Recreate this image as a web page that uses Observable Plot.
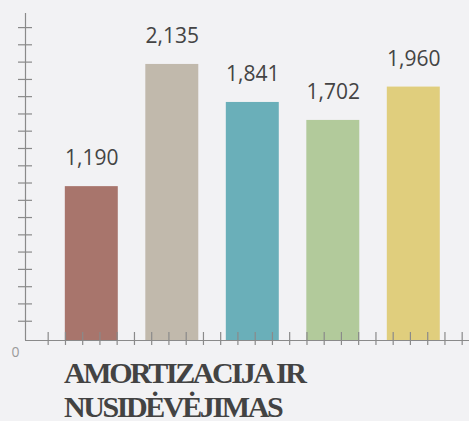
<!DOCTYPE html>
<html>
<head>
<meta charset="utf-8">
<script src="https://cdn.jsdelivr.net/npm/d3@7"></script>
<script src="https://cdn.jsdelivr.net/npm/@observablehq/plot@0.6"></script>
<style>
  html, body { margin: 0; padding: 0; background: #f2f2f4; }
  #wrap { position: relative; width: 469px; height: 421px; background: #f2f2f4; }
  #title {
    position: absolute; left: 64px; top: 356px;
    font-family: "Liberation Serif", "DejaVu Serif", serif;
    font-weight: bold; font-size: 30px; line-height: 34px;
    letter-spacing: -2.4px; color: #434343;
  }
  svg { display: block; }
</style>
</head>
<body>
<div id="wrap"><div id="chart"></div><div id="title">AMORTIZACIJA IR<br>NUSIDĖVĖJIMAS</div></div>
<script>
const categories = ["1", "2", "3", "4", "5"];
const values = [1190, 2135, 1841, 1702, 1960];
const labels = ["1,190", "2,135", "1,841", "1,702", "1,960"];
const colors = ["#a8756c", "#c1b9ac", "#6aafb9", "#b2ca9b", "#e0ce7d"];
const yTicks = [149, 283, 416, 550, 684, 817, 951, 1084, 1218, 1351, 1485, 1619, 1752, 1886, 2019, 2153, 2287, 2420];
const xTicks = [-0.542, -0.327, -0.113, 0.101, 0.315, 0.530, 0.744, 0.958, 1.173, 1.387, 1.601, 1.815, 2.030, 2.244, 2.458, 2.673, 2.887, 3.101, 3.315, 3.530, 3.744, 3.958, 4.173, 4.387, 4.601];
const xDomain = [-0.8236, 4.692];
const yDomain = [0, 2529];

const data = categories.map((c, i) => ({category: c, index: i, value: values[i], label: labels[i], color: colors[i]}));

const chart = Plot.plot({
  width: 469,
  height: 362,
  marginLeft: 25,
  marginRight: 0,
  marginTop: 13,
  marginBottom: 22,
  style: {background: "transparent"},
  x: {type: "linear", domain: xDomain, axis: null},
  y: {domain: yDomain, axis: null},
  marks: [
    Plot.rect(data, {x1: d => d.index - 0.329, x2: d => d.index + 0.329, y1: 0, y2: "value", fill: "color"}),
    Plot.ruleX([xDomain[0]], {stroke: "#8a8a8a", strokeWidth: 1.2}),
    Plot.ruleY([0], {stroke: "#8a8a8a", strokeWidth: 1.2}),
    Plot.tickY(yTicks, {y: d => d, insetLeft: -7, insetRight: 437, stroke: "#8a8a8a", strokeWidth: 1.2}),
    Plot.tickX(xTicks, {x: d => d, insetTop: 319, insetBottom: -5, stroke: "#8a8a8a", strokeWidth: 1.2}),
    Plot.text(data, {x: "index", y: "value", text: "label", dy: -28, lineAnchor: "middle", fill: "#444", fontSize: 21, fontFamily: "Open Sans"}),
    Plot.text(["0"], {x: xDomain[0], y: 0, text: d => d, dx: -10, dy: 12, lineAnchor: "middle", fill: "#9a9a9a", fontSize: 14, fontFamily: "Open Sans"})
  ]
});
document.getElementById("chart").appendChild(chart);
</script>
</body>
</html>
